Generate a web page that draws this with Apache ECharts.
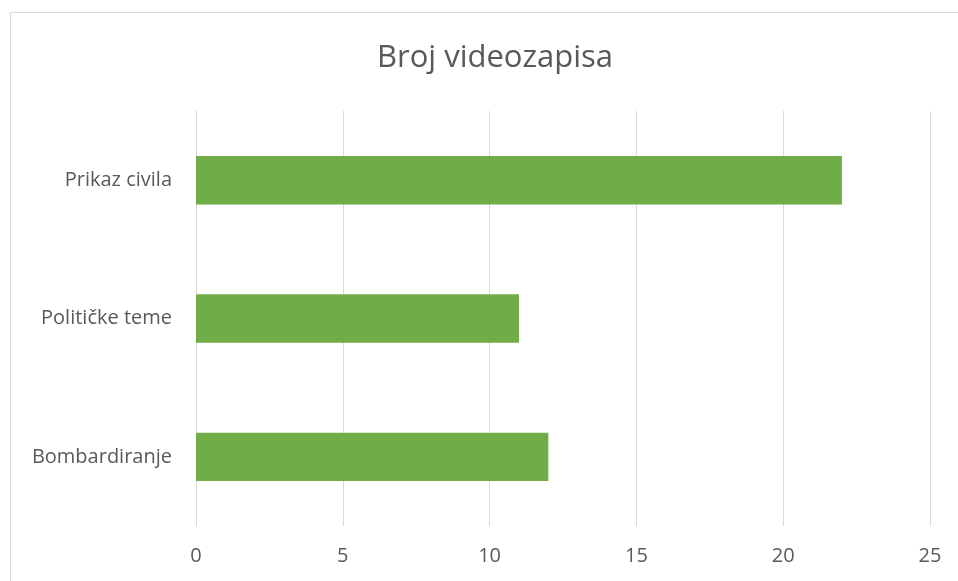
<!DOCTYPE html>
<html>
<head>
<meta charset="utf-8">
<script src="https://cdn.jsdelivr.net/npm/echarts@6/dist/echarts.min.js"></script>
<style>
    html, body { margin: 0; padding: 0; background: #fff; }
    #main { width: 958px; height: 581px; }
</style>
</head>
<body>
<div id="main"></div>
<script>
var categories = ['Bombardiranje', 'Političke teme', 'Prikaz civila'];
var values = [12, 11, 22];
var xTicks = [0, 5, 10, 15, 20, 25];

var myChart = echarts.init(document.getElementById('main'));
var option = {
    backgroundColor: '#fff',
    animation: false,
    title: {
        text: 'Broj videozapisa',
        left: 490,
        textAlign: 'center',
        top: 38,
        textStyle: {
            fontFamily: 'Open Sans',
            fontSize: 31,
            fontWeight: 'normal',
            color: '#595959'
        }
    },
    graphic: [{
        type: 'rect',
        shape: { x: 10.5, y: 12.5, width: 960, height: 600 },
        style: { fill: 'none', stroke: '#d9d9d9', lineWidth: 1 },
        silent: true
    }],
    grid: {
        left: 196,
        right: 28,
        top: 111,
        bottom: 55
    },
    xAxis: {
        type: 'value',
        min: xTicks[0],
        max: xTicks[xTicks.length - 1],
        interval: 5,
        axisLine: { show: false },
        axisTick: { show: false },
        splitLine: { lineStyle: { color: '#d9d9d9', width: 1 } },
        axisLabel: {
            margin: 20,
            fontFamily: 'Open Sans',
            fontSize: 20,
            color: '#595959'
        }
    },
    yAxis: {
        type: 'category',
        data: categories,
        axisLine: { show: true, lineStyle: { color: '#d9d9d9' } },
        axisTick: { show: false },
        axisLabel: {
            margin: 24,
            fontFamily: 'Open Sans',
            fontSize: 20,
            color: '#595959'
        }
    },
    series: [{
        type: 'bar',
        data: values,
        barCategoryGap: '65%',
        itemStyle: { color: '#70ad47' }
    }]
};
myChart.setOption(option);
</script>
</body>
</html>
